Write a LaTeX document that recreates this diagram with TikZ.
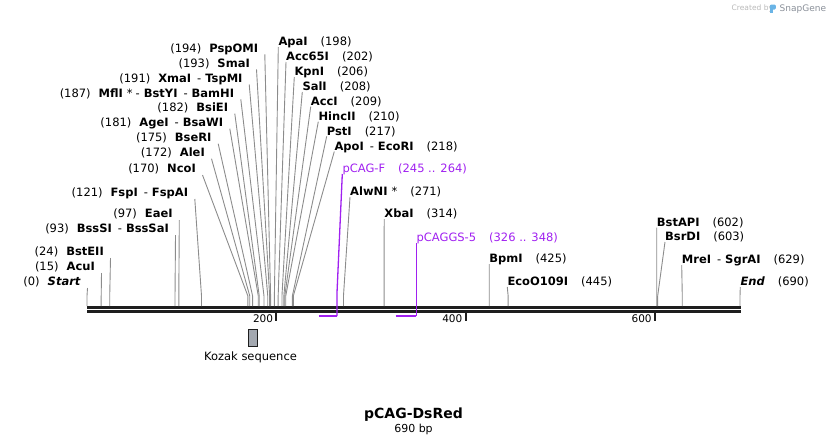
\documentclass[tikz,border=0pt]{standalone}
\usepackage{fontspec}
\setmainfont{DejaVu Sans}

\definecolor{cutgray}{HTML}{8C8C8C}
\definecolor{primerpurple}{HTML}{A020F0}
\definecolor{backbonegray}{HTML}{1E1E1E}
\definecolor{kozakfill}{HTML}{A3A8B0}
\definecolor{wmgray}{HTML}{B8B8B8}
\definecolor{wmdark}{HTML}{8A9099}
\definecolor{logoblue}{HTML}{6AB4E6}

\tikzstyle{every node}=[inner sep=0pt,font=\fontsize{11.5}{13}\selectfont]
\tikzstyle{leftsite}=[anchor=south east,inner xsep=6.5pt,inner ysep=2pt,text depth=0pt]
\tikzstyle{rightsite}=[anchor=south west,inner xsep=0pt,inner ysep=1pt,text depth=0pt]
\tikzstyle{cutline}=[cutgray,line width=0.9pt]
\tikzstyle{primer}=[primerpurple,line width=1.3pt]
\tikzstyle{primerbar}=[primerpurple,line width=2.5pt]
\tikzstyle{tickmark}=[backbonegray,line width=2pt]

\begin{document}
\begin{tikzpicture}[x=1pt,y=-1pt]
	\useasboundingbox (0,0) rectangle (828,445);

	% sites on the backbone
	\foreach \p in {0,15,24,93,97,121,170,172,175,181,182,187,191,193,194,198,202,206,208,209,210,217,218,271,314,425,445,602,603,629,690}
	  \coordinate (s\p) at ({87+0.94638*\p},306);

	\draw[backbonegray,line width=3pt] (87,307.3) -- (740.5,307.3);
	\draw[backbonegray,line width=2.6pt] (87,311.3) -- (740.5,311.3);

	\foreach \t in {200,400,600} {
	  \draw[tickmark] ({87+0.94638*\t},312) -- ++(0,8.5);
	  \node[anchor=base east,font=\fontsize{10.5}{12}\selectfont] (tick\t) at ({84+0.94638*\t},322.5) {\t};
	}

	% labels on the left
	\node[leftsite] (pspomi) at (264.8,54.3) {(194)\hspace{8pt}\textbf{PspOMI}};
	\node[leftsite] (smai) at (256.5,69.3) {(193)\hspace{8pt}\textbf{SmaI}};
	\node[leftsite] (xmai) at (249.2,84.3) {(191)\hspace{8pt}\textbf{XmaI}\hspace{6pt}-\hspace{4pt}\textbf{TspMI}};
	\node[leftsite] (mfli) at (240.8,99.3) {(187)\hspace{8pt}\textbf{MflI}\hspace{4pt}*\hspace{3pt}-\hspace{4pt}\textbf{BstYI}\hspace{6pt}-\hspace{4pt}\textbf{BamHI}};
	\node[leftsite] (bsiei) at (234.8,113.7) {(182)\hspace{8pt}\textbf{BsiEI}};
	\node[leftsite] (agei) at (229.8,128.7) {(181)\hspace{8pt}\textbf{AgeI}\hspace{6pt}-\hspace{4pt}\textbf{BsaWI}};
	\node[leftsite] (bseri) at (218.2,143.7) {(175)\hspace{8pt}\textbf{BseRI}};
	\node[leftsite] (alei) at (211.5,158.7) {(172)\hspace{8pt}\textbf{AleI}};
	\node[leftsite] (ncoi) at (202.5,175) {(170)\hspace{8pt}\textbf{NcoI}};
	\node[leftsite] (fspi) at (194.8,199) {(121)\hspace{8pt}\textbf{FspI}\hspace{6pt}-\hspace{4pt}\textbf{FspAI}};
	\node[leftsite] (eaei) at (179.3,220) {(97)\hspace{8pt}\textbf{EaeI}};
	\node[leftsite] (bsssi) at (175.5,235) {(93)\hspace{8pt}\textbf{BssSI}\hspace{6pt}-\hspace{4pt}\textbf{BssSaI}};
	\node[leftsite] (bsteii) at (110.5,258) {(24)\hspace{8pt}\textbf{BstEII}};
	\node[leftsite] (acui) at (101.5,273) {(15)\hspace{8pt}\textbf{AcuI}};
	\node[leftsite] (start) at (87.5,288) {(0)\hspace{8pt}\textbf{\textit{Start}}};

	% labels on the right
	\node[rightsite] (apai) at (278.3,47) {\textbf{ApaI}\hspace{13pt}(198)};
	\node[rightsite] (acc65i) at (286,62) {\textbf{Acc65I}\hspace{13pt}(202)};
	\node[rightsite] (kpni) at (294.3,77) {\textbf{KpnI}\hspace{13pt}(206)};
	\node[rightsite] (sali) at (302.3,92) {\textbf{SalI}\hspace{13pt}(208)};
	\node[rightsite] (acci) at (310.7,106.7) {\textbf{AccI}\hspace{13pt}(209)};
	\node[rightsite] (hincii) at (318.3,121.7) {\textbf{HincII}\hspace{13pt}(210)};
	\node[rightsite] (psti) at (326.7,136.3) {\textbf{PstI}\hspace{13pt}(217)};
	\node[rightsite] (apoi) at (334.3,151.5) {\textbf{ApoI}\hspace{6pt}-\hspace{4pt}\textbf{EcoRI}\hspace{13pt}(218)};
	\node[rightsite] (alwni) at (350,197) {\textbf{AlwNI}\hspace{4pt}*\hspace{13pt}(271)};
	\node[rightsite] (xbai) at (384.2,219) {\textbf{XbaI}\hspace{13pt}(314)};
	\node[rightsite] (bpmi) at (489.2,264) {\textbf{BpmI}\hspace{13pt}(425)};
	\node[rightsite] (ecoo109i) at (507.3,287) {\textbf{EcoO109I}\hspace{13pt}(445)};
	\node[rightsite] (bstapi) at (656.7,227.5) {\textbf{BstAPI}\hspace{13pt}(602)};
	\node[rightsite] (bsrdi) at (665,242) {\textbf{BsrDI}\hspace{13pt}(603)};
	\node[rightsite] (mrei) at (681.7,265) {\textbf{MreI}\hspace{6pt}-\hspace{4pt}\textbf{SgrAI}\hspace{13pt}(629)};
	\node[rightsite] (end) at (740.3,287) {\textbf{\textit{End}}\hspace{13pt}(690)};

	\foreach \n/\p in {pspomi/194,smai/193,xmai/191,mfli/187,bsiei/182,agei/181,bseri/175,alei/172,ncoi/170,fspi/121,eaei/97,bsssi/93,bsteii/24,acui/15,start/0}
	  \draw[cutline] (\n.south east) -- ([yshift=10pt]s\p) -- (s\p);
	\foreach \n/\p in {apai/198,acc65i/202,kpni/206,sali/208,acci/209,hincii/210,psti/217,apoi/218,alwni/271,xbai/314,bpmi/425,ecoo109i/445,bstapi/602,bsrdi/603,mrei/629,end/690}
	  \draw[cutline] (\n.south west) -- ([yshift=10pt]s\p) -- (s\p);

	% primers
	\coordinate (pcagf-a) at (318.9,316);
	\coordinate (pcagf-b) at (336.9,316);
	\coordinate (pcaggs-a) at (395.5,316);
	\coordinate (pcaggs-b) at (416.4,316);
	\node[rightsite,text=primerpurple] (pcagf) at (342.3,174) {pCAG-F\hspace{13pt}(245 .. 264)};
	\node[rightsite,text=primerpurple] (pcaggs) at (416.4,242.5) {pCAGGS-5\hspace{13pt}(326 .. 348)};
	\draw[primerbar] (pcagf-a) -- (pcagf-b);
	\draw[primer] (pcagf-b) -- ++(0,-21) -- (pcagf.south west);
	\draw[primerbar] (pcaggs-a) -- (pcaggs-b);
	\draw[primer] (pcaggs-b) -- (pcaggs.south west);

	% feature
	\node[draw=backbonegray,line width=0.8pt,fill=kozakfill,minimum width=9pt,minimum height=16.4pt,anchor=north west] (kozak) at (247.7,329.3) {};
	\node[anchor=base] (kozaklbl) at (250.5,360.5) {Kozak sequence};

	\node[anchor=base,font=\bfseries\fontsize{14}{16}\selectfont] (title) at (413.5,418) {pCAG-DsRed};
	\node[anchor=base,font=\fontsize{11}{13}\selectfont] (length) at (413.5,432) {690 bp};

	% watermark
	\node[anchor=base west,font=\fontsize{7.5}{9}\selectfont,text=wmgray] (createdby) at (731.5,10.8) {Created by};
	\fill[logoblue,rounded corners=1.2pt] (770,4.5) rectangle (775.8,9.5);
	\fill[logoblue] (770,4.5) rectangle (772.6,13);
	\node[anchor=base west,font=\fontsize{9}{10}\selectfont,text=wmdark] (snapgene) at (779.5,11.2) {SnapGene};
\end{tikzpicture}
\end{document}
